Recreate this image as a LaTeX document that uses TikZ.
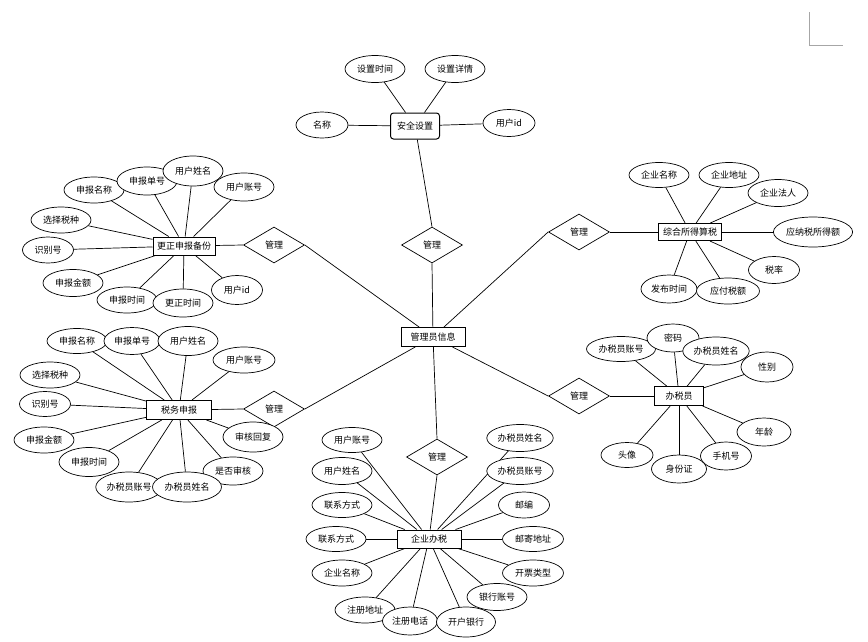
\documentclass[tikz,border=0pt]{standalone}
\usepackage{fontspec}
\setmainfont{Noto Sans CJK SC}
\usetikzlibrary{shapes.geometric,backgrounds}
\begin{document}
\begin{tikzpicture}[x=1pt,y=-1pt,font=\fontsize{9}{11}\selectfont]
        \tikzstyle{entity}=[rectangle,draw,line width=1pt,fill=white,minimum height=18pt,inner xsep=4pt,inner ysep=1pt]
        \tikzstyle{attr}=[ellipse,draw,line width=0.7pt,fill=white,minimum width=60pt,minimum height=26pt,inner sep=1pt]
        \tikzstyle{rel}=[diamond,draw,line width=0.7pt,fill=white,aspect=1.7,minimum width=61pt,minimum height=36pt,inner sep=0pt]
        \tikzstyle{edge}=[draw,line width=0.7pt]
        \useasboundingbox (0,0) rectangle (868,641);
        \draw[gray!70,line width=0.8pt] (809,12) -- (809,45) -- (843,45);
       \begin{scope}
         \node [entity,minimum width=64pt,minimum height=19pt] (e0) at (433,337) {管理员信息};
         \node [rel] (r1) at (432,245) {管理};
         \node [rel] (r2) at (274,245) {管理};
         \node [rel] (r3) at (579,232) {管理};
         \node [rel] (r4) at (274,409) {管理};
         \node [rel] (r5) at (579,396) {管理};
         \node [rel] (r6) at (437,457) {管理};

         \node [entity,rounded corners=3pt,minimum width=49pt,minimum height=26pt] (e1) at (415,126) {安全设置};
         \node [attr,minimum height=27pt] (a11) at (375,69) {设置时间};
         \node [attr,minimum height=27pt] (a12) at (455,69) {设置详情};
         \node [attr,minimum width=52pt] (a13) at (322,125) {名称};
         \node [attr,minimum width=52pt,minimum height=27pt] (a14) at (509,123) {用户id};

         \node [entity,minimum width=62pt] (e2) at (184,246) {更正申报备份};
         \node [attr] (a21) at (94,190) {申报名称};
         \node [attr,minimum height=28pt] (a22) at (147,181) {申报单号};
         \node [attr,minimum height=30pt] (a23) at (193,171) {用户姓名};
         \node [attr,minimum height=28pt] (a24) at (244,187) {用户账号};
         \node [attr] (a25) at (61,220) {选择税种};
         \node [attr,minimum width=51pt] (a26) at (48,250) {识别号};
         \node [attr,minimum height=27pt] (a27) at (73,283) {申报金额};
         \node [attr] (a28) at (127,300) {申报时间};
         \node [attr,minimum height=28pt] (a29) at (183,303) {更正时间};
         \node [attr,minimum width=51pt,minimum height=29pt] (a20) at (237,290) {用户id};

         \node [entity,minimum width=63pt,minimum height=17pt] (e3) at (690,232) {综合所得算税};
         \node [attr,minimum height=25pt] (a31) at (659,175) {企业名称};
         \node [attr,minimum height=25pt] (a32) at (729,175) {企业地址};
         \node [attr,minimum height=27pt] (a33) at (778,193) {企业法人};
         \node [attr,minimum height=30pt] (a34) at (813,232) {应纳税所得额};
         \node [attr,minimum width=51pt,minimum height=27pt] (a35) at (774,270) {税率};
         \node [attr,minimum width=56pt,minimum height=28pt] (a36) at (669,289) {发布时间};
         \node [attr,minimum width=63pt] (a37) at (728,291) {应付税额};

         \node [entity,minimum width=65pt,minimum height=19pt] (e4) at (179,410) {税务申报};
         \node [attr,minimum height=25pt] (a41) at (77,341) {申报名称};
         \node [attr,minimum width=56pt,minimum height=27pt] (a42) at (132,341) {申报单号};
         \node [attr,minimum height=29pt] (a43) at (188,341) {用户姓名};
         \node [attr,minimum width=62pt] (a44) at (244,360) {用户账号};
         \node [attr] (a45) at (50,375) {选择税种};
         \node [attr,minimum width=51pt,minimum height=25pt] (a46) at (45,404) {识别号};
         \node [attr] (a47) at (44,440) {申报金额};
         \node [attr,minimum height=29pt] (a48) at (89,462) {申报时间};
         \node [attr,minimum height=30pt] (a49) at (253,437) {审核回复};
         \node [attr,minimum height=28pt] (a40) at (233,471) {是否审核};
         \node [attr,minimum width=62pt,minimum height=30pt] (a4a) at (129,487) {办税员账号};
         \node [attr,minimum width=69pt,minimum height=30pt] (a4b) at (187,487) {办税员姓名};

         \node [entity,minimum width=49pt,minimum height=19pt] (e5) at (679,396) {办税员};
         \node [attr,minimum width=69pt,minimum height=25pt] (a51) at (621,349) {办税员账号};
         \node [attr,minimum width=52pt,minimum height=28pt] (a52) at (673,338) {密码};
         \node [attr,minimum width=61pt,minimum height=28pt] (a53) at (716,351) {办税员姓名};
         \node [attr,minimum width=52pt,minimum height=30pt] (a54) at (767,367) {性别};
         \node [attr,minimum width=54pt,minimum height=28pt] (a55) at (764,432) {年龄};
         \node [attr,minimum width=52pt,minimum height=25pt] (a56) at (627,455) {头像};
         \node [attr,minimum width=55pt,minimum height=28pt] (a57) at (679,469) {身份证};
         \node [attr,minimum width=51pt,minimum height=28pt] (a58) at (726,456) {手机号};

         \node [entity,minimum width=64pt] (e6) at (429,539) {企业办税};
         \node [attr,minimum height=25pt] (a61) at (352,440) {用户账号};
         \node [attr,minimum height=27pt] (a62) at (342,471) {用户姓名};
         \node [attr,minimum height=25pt] (a63) at (342,505) {联系方式};
         \node [attr,minimum height=25pt] (a64) at (336,539) {联系方式};
         \node [attr] (a65) at (342,573) {企业名称};
         \node [attr] (a66) at (365,610) {注册地址};
         \node [attr,minimum width=55pt,minimum height=28pt] (a67) at (410,621) {注册电话};
         \node [attr,minimum width=59pt,minimum height=30pt] (a68) at (466,622) {开户银行};
         \node [attr,minimum height=27pt] (a69) at (497,597) {银行账号};
         \node [attr,minimum width=61pt] (a60) at (533,573) {开票类型};
         \node [attr,minimum width=61pt,minimum height=25pt] (a6a) at (533,539) {邮寄地址};
         \node [attr,minimum width=51pt] (a6b) at (524,505) {邮编};
         \node [attr,minimum height=27pt] (a6c) at (520,471) {办税员账号};
         \node [attr,minimum height=27pt] (a6d) at (520,438) {办税员姓名};

         \begin{pgfonlayer}{background}
         \path[edge] (e1) edge (r1.north) (r1.south) edge (e0);
         \path[edge] (e0) edge (r2.east) (r2.west) edge (e2);
         \path[edge] (e0) edge (r3.west) (r3.east) edge (e3);
         \path[edge] (e0) edge (r4.east) (r4.west) edge (e4);
         \path[edge] (e0) edge (r5.west) (r5.east) edge (e5);
         \path[edge] (e0) edge (r6.north) (r6.south) edge (e6);
         \foreach \a in {a11,a12,a13,a14}
           \path[edge] (e1) edge (\a);
         \foreach \a in {a21,a22,a23,a24,a25,a26,a27,a28,a29,a20}
           \path[edge] (e2) edge (\a);
         \foreach \a in {a31,a32,a33,a34,a35,a36,a37}
           \path[edge] (e3) edge (\a);
         \foreach \a in {a41,a42,a43,a44,a45,a46,a47,a48,a49,a40,a4a,a4b}
           \path[edge] (e4) edge (\a);
         \foreach \a in {a51,a52,a53,a54,a55,a56,a57,a58}
           \path[edge] (e5) edge (\a);
         \foreach \a in {a61,a62,a63,a64,a65,a66,a67,a68,a69,a60,a6a,a6b,a6c,a6d}
           \path[edge] (e6) edge (\a);
         \end{pgfonlayer}
        \end{scope}
      \end{tikzpicture}
\end{document}
